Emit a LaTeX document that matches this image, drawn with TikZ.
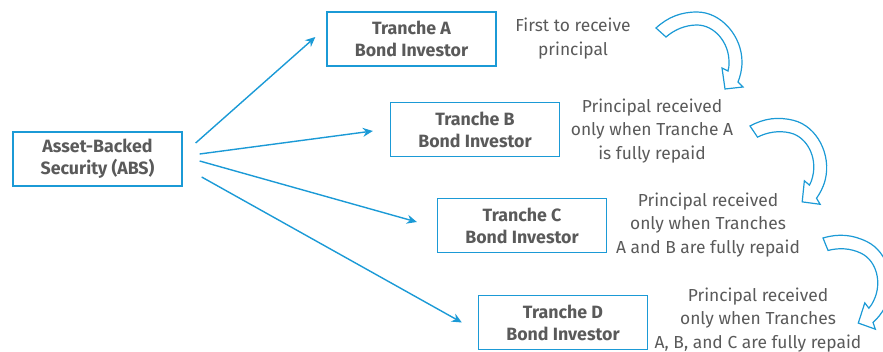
\documentclass[tikz,border=0pt]{standalone}
\usepackage{fontspec}
\setmainfont{Fira Sans}
\usepackage{xcolor}
\usetikzlibrary{positioning,calc,arrows.meta}

\definecolor{absblue}{RGB}{27,154,214}
\definecolor{txtgray}{RGB}{90,90,90}

\tikzset{
  curvarr/.pic={
    \draw[absblue, line width=1.2pt, fill=white, line join=miter]
      (0,0) .. controls (12,11) and (25,16) .. (41,16)
      .. controls (65,16) and (86,-8) .. (86,-34)
      .. controls (86,-42) and (84,-49) .. (82,-54)
      -- (87,-59) -- (69,-61) -- (66,-40) -- (72,-43)
      .. controls (73,-40) and (73,-37) .. (73,-34)
      .. controls (73,-14) and (58,3) .. (41,3)
      .. controls (29,3) and (18,-2) .. (10,-9) -- cycle;
  }
}

\begin{document}
\begin{tikzpicture}[
  x=1pt, y=1pt,
  box/.style={draw=absblue, line width=1.3pt, minimum width=169pt,
    minimum height=54pt, align=center, text=txtgray,
    font=\fontsize{17.8}{22}\selectfont\bfseries},
  desc/.style={align=center, text=txtgray,
    font=\fontsize{17.4}{23.5}\selectfont},
  arr/.style={-{Stealth[length=10pt,width=9pt]}, line width=1.4pt, absblue}
]
\useasboundingbox (0,0) rectangle (883,-352);

% ---- source ----
\node[box] (abs) at (97.5,-159) {Asset-Backed\\Security (ABS)};

% ---- tranches ----
\node[box] (ta) at (411.5,-39) {Tranche A\\Bond Investor};
\node[box] (tb) at (475,-129.5) {Tranche B\\Bond Investor};
\node[box] (tc) at (522,-225.5) {Tranche C\\Bond Investor};
\node[box] (td) at (563,-322.5) {Tranche D\\Bond Investor};

\draw[arr] ([shift={(13,16)}]abs.east) -- ([shift={(-11,2)}]ta.west);
\draw[arr] ([shift={(17,5)}]abs.east) -- ([shift={(-17,-1.5)}]tb.west);
\draw[arr] ([shift={(17,-2)}]abs.east) -- ([shift={(-20,3.5)}]tc.west);
\draw[arr] ([shift={(19,-18)}]abs.east) -- ([shift={(-16,0)}]td.west);

% ---- descriptions ----
\node[desc] (da) at (573,-38.5) {First to receive\\principal};
\node[desc] (db) at (652,-131) {Principal received\\only when Tranche A\\is fully repaid};
\node[desc] (dc) at (708,-225) {Principal received\\only when Tranches\\A and B are fully repaid};
\node[desc] (dd) at (758,-320) {Principal received\\only when Tranches\\A, B, and C are fully repaid};

% ---- payment order ----
\pic at (656,-28) {curvarr};
\pic[rotate=-14] at (750,-126) {curvarr};
\pic[rotate=-26] at (823,-238) {curvarr};
\end{tikzpicture}
\end{document}
